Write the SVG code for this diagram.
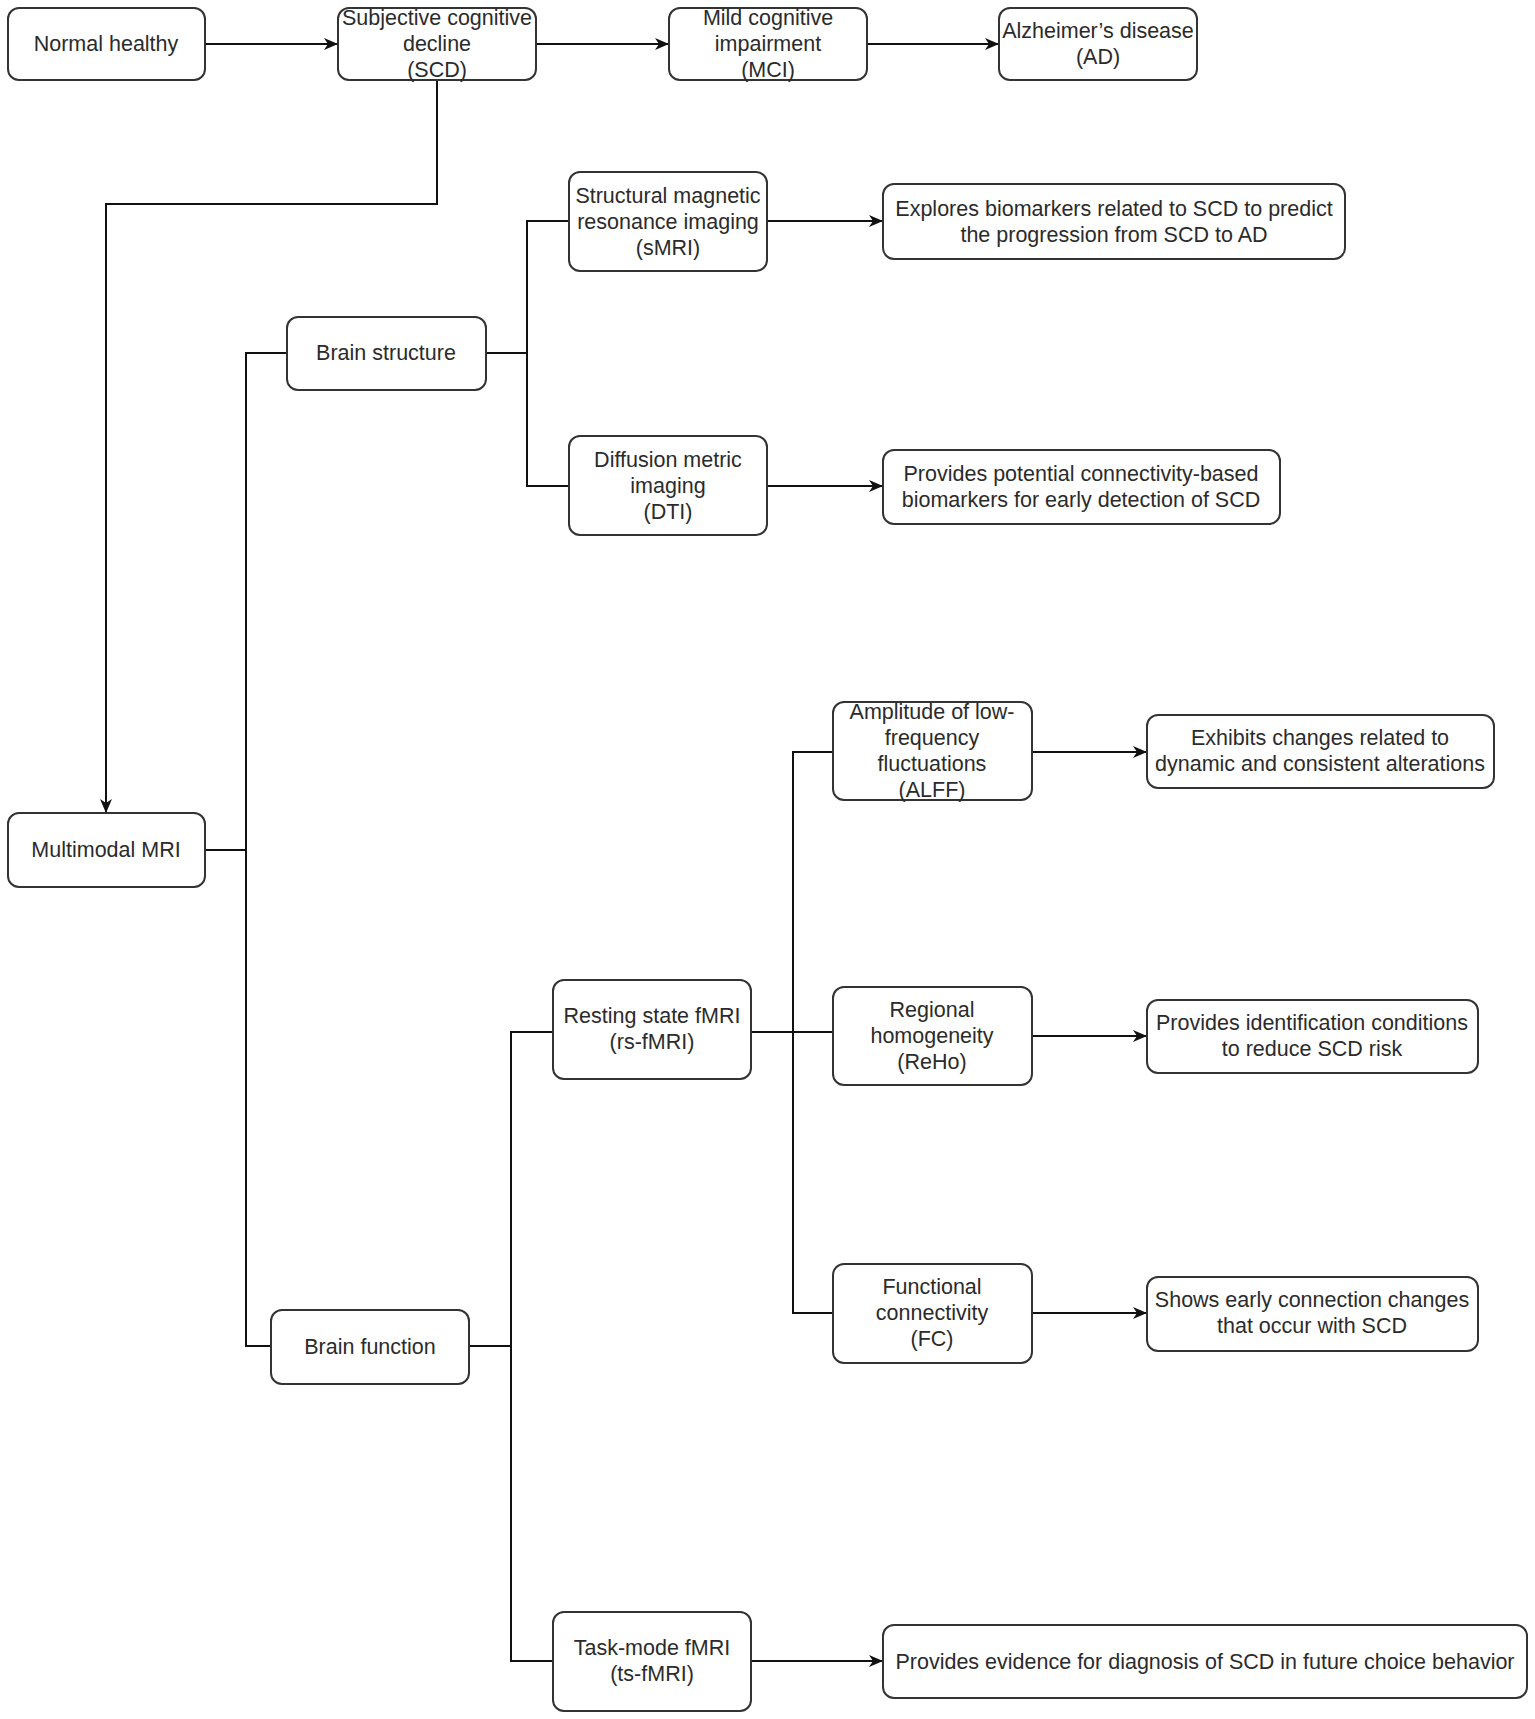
<svg xmlns="http://www.w3.org/2000/svg" width="1535" height="1719" viewBox="0 0 1535 1719">
<style>
.box{fill:#fff;stroke:#333;stroke-width:2}
.t{font-family:"Liberation Sans",Arial,sans-serif;font-size:21.5px;fill:#2b2b2b;text-anchor:middle}
.c{fill:none;stroke:#111;stroke-width:2}
.a{fill:none;stroke:#111;stroke-width:2;marker-end:url(#arr)}
</style>
<defs>
<marker id="arr" viewBox="0 0 14 12" refX="13" refY="6" markerWidth="14" markerHeight="12" markerUnits="userSpaceOnUse" orient="auto">
<path d="M0,0 L14,6 L0,12 L4,6 Z" fill="#111"/>
</marker>
</defs>
<rect width="1535" height="1719" fill="#fff"/>
<g id="connectors">
<line class="a" x1="205" y1="44" x2="337" y2="44"/>
<line class="a" x1="536" y1="44" x2="668" y2="44"/>
<line class="a" x1="867" y1="44" x2="998" y2="44"/>
<polyline class="a" points="437,80 437,204 106,204 106,812"/>
<polyline class="c" points="205,850 246,850"/>
<polyline class="c" points="287,353 246,353 246,1346 271,1346"/>
<polyline class="c" points="486,353 527,353"/>
<polyline class="c" points="569,221 527,221 527,486 569,486"/>
<line class="a" x1="767" y1="221" x2="882" y2="221"/>
<line class="a" x1="767" y1="486" x2="882" y2="486"/>
<polyline class="c" points="469,1346 511,1346"/>
<polyline class="c" points="553,1032 511,1032 511,1661 553,1661"/>
<line class="a" x1="751" y1="1661" x2="882" y2="1661"/>
<line class="c" x1="751" y1="1032" x2="833" y2="1032"/>
<polyline class="c" points="833,752 793,752 793,1313 833,1313"/>
<line class="a" x1="1032" y1="752" x2="1146" y2="752"/>
<line class="a" x1="1032" y1="1036" x2="1146" y2="1036"/>
<line class="a" x1="1032" y1="1313" x2="1146" y2="1313"/>
</g>
<g id="normal">
<rect class="box" x="8" y="8" width="197" height="72" rx="11"/>
<text class="t" x="106" y="51">Normal healthy</text>
</g>
<g id="scd">
<rect class="box" x="338" y="8" width="198" height="72" rx="11"/>
<text class="t" x="437" y="25">Subjective cognitive</text>
<text class="t" x="437" y="51">decline</text>
<text class="t" x="437" y="77">(SCD)</text>
</g>
<g id="mci">
<rect class="box" x="669" y="8" width="198" height="72" rx="11"/>
<text class="t" x="768" y="25">Mild cognitive</text>
<text class="t" x="768" y="51">impairment</text>
<text class="t" x="768" y="77">(MCI)</text>
</g>
<g id="ad">
<rect class="box" x="999" y="8" width="198" height="72" rx="11"/>
<text class="t" x="1098" y="38">Alzheimer’s disease</text>
<text class="t" x="1098" y="64">(AD)</text>
</g>
<g id="multimodal">
<rect class="box" x="8" y="813" width="197" height="74" rx="11"/>
<text class="t" x="106" y="857">Multimodal MRI</text>
</g>
<g id="structure">
<rect class="box" x="287" y="317" width="199" height="73" rx="11"/>
<text class="t" x="386" y="360">Brain structure</text>
</g>
<g id="function">
<rect class="box" x="271" y="1310" width="198" height="74" rx="11"/>
<text class="t" x="370" y="1354">Brain function</text>
</g>
<g id="smri">
<rect class="box" x="569" y="172" width="198" height="99" rx="11"/>
<text class="t" x="668" y="203">Structural magnetic</text>
<text class="t" x="668" y="229">resonance imaging</text>
<text class="t" x="668" y="255">(sMRI)</text>
</g>
<g id="dti">
<rect class="box" x="569" y="436" width="198" height="99" rx="11"/>
<text class="t" x="668" y="467">Diffusion metric</text>
<text class="t" x="668" y="493">imaging</text>
<text class="t" x="668" y="519">(DTI)</text>
</g>
<g id="explores">
<rect class="box" x="883" y="184" width="462" height="75" rx="11"/>
<text class="t" x="1114" y="216">Explores biomarkers related to SCD to predict</text>
<text class="t" x="1114" y="242">the progression from SCD to AD</text>
</g>
<g id="potential">
<rect class="box" x="883" y="450" width="397" height="74" rx="11"/>
<text class="t" x="1081" y="481">Provides potential connectivity-based</text>
<text class="t" x="1081" y="507">biomarkers for early detection of SCD</text>
</g>
<g id="rsfmri">
<rect class="box" x="553" y="980" width="198" height="99" rx="11"/>
<text class="t" x="652" y="1023">Resting state fMRI</text>
<text class="t" x="652" y="1049">(rs-fMRI)</text>
</g>
<g id="tsfmri">
<rect class="box" x="553" y="1612" width="198" height="99" rx="11"/>
<text class="t" x="652" y="1655">Task-mode fMRI</text>
<text class="t" x="652" y="1681">(ts-fMRI)</text>
</g>
<g id="evidence">
<rect class="box" x="883" y="1625" width="644" height="73" rx="11"/>
<text class="t" x="1205" y="1669">Provides evidence for diagnosis of SCD in future choice behavior</text>
</g>
<g id="alff">
<rect class="box" x="833" y="702" width="199" height="98" rx="11"/>
<text class="t" x="932" y="719">Amplitude of low-</text>
<text class="t" x="932" y="745">frequency</text>
<text class="t" x="932" y="771">fluctuations</text>
<text class="t" x="932" y="797">(ALFF)</text>
</g>
<g id="reho">
<rect class="box" x="833" y="987" width="199" height="98" rx="11"/>
<text class="t" x="932" y="1017">Regional</text>
<text class="t" x="932" y="1043">homogeneity</text>
<text class="t" x="932" y="1069">(ReHo)</text>
</g>
<g id="fc">
<rect class="box" x="833" y="1264" width="199" height="99" rx="11"/>
<text class="t" x="932" y="1294">Functional</text>
<text class="t" x="932" y="1320">connectivity</text>
<text class="t" x="932" y="1346">(FC)</text>
</g>
<g id="exhibits">
<rect class="box" x="1147" y="715" width="347" height="73" rx="11"/>
<text class="t" x="1320" y="745">Exhibits changes related to</text>
<text class="t" x="1320" y="771">dynamic and consistent alterations</text>
</g>
<g id="identification">
<rect class="box" x="1147" y="1000" width="331" height="73" rx="11"/>
<text class="t" x="1312" y="1030">Provides identification conditions</text>
<text class="t" x="1312" y="1056">to reduce SCD risk</text>
</g>
<g id="early">
<rect class="box" x="1147" y="1277" width="331" height="74" rx="11"/>
<text class="t" x="1312" y="1307">Shows early connection changes</text>
<text class="t" x="1312" y="1333">that occur with SCD</text>
</g>
</svg>
